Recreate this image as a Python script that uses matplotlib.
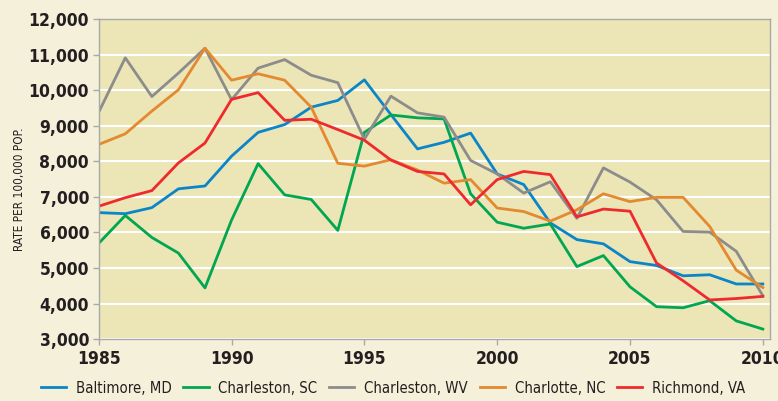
import matplotlib.pyplot as plt

years = list(range(1985, 2011))
baltimore = [6560, 6530, 6700, 7230, 7310, 8150, 8820, 9040, 9530, 9720, 10300,
             9320, 8355, 8540, 8800, 7650, 7350, 6270, 5800, 5680, 5180, 5070,
             4780, 4810, 4550, 4550]
charleston_sc = [5695, 6480, 5860, 5420, 4440, 6350, 7940, 7060, 6930, 6060, 8820,
                 9310, 9230, 9200, 7090, 6290, 6120, 6240, 5040, 5350, 4470, 3910,
                 3880, 4080, 3510, 3280]
charleston_wv = [9390, 10920, 9830, 10490, 11190, 9740, 10630, 10870, 10430, 10220, 8630,
                 9840, 9370, 9250, 8030, 7650, 7110, 7430, 6400, 7820, 7420, 6920,
                 6030, 6010, 5470, 4220]
charlotte = [8480, 8780, 9420, 10020, 11190, 10290, 10470, 10290, 9530, 7950, 7870,
             8050, 7760, 7390, 7490, 6690, 6590, 6320, 6640, 7090, 6870, 6990,
             6990, 6170, 4940, 4450]
richmond = [6740, 6980, 7180, 7960, 8520, 9750, 9940, 9160, 9190, 8900, 8600,
            8040, 7720, 7650, 6780, 7490, 7720, 7630, 6440, 6660, 6600, 5140,
            4640, 4100, 4140, 4200]

series = [("Baltimore, MD", baltimore, "#0a86c8"),
          ("Charleston, SC", charleston_sc, "#00a651"),
          ("Charleston, WV", charleston_wv, "#8c8c8c"),
          ("Charlotte, NC", charlotte, "#e3892f"),
          ("Richmond, VA", richmond, "#ee2a2f")]

FONT = ["DejaVu Sans"]
BG = "#f5f0da"
PLOT_BG = "#ece5b6"
INK = "#231f20"

fig = plt.figure(figsize=(7.78, 4.01), dpi=100)
fig.patch.set_facecolor(BG)
ax = fig.add_axes([0.1269, 0.1546, 0.8628, 0.7968])
ax.set_facecolor(PLOT_BG)

for name, vals, col in series:
    ax.plot(years, vals, color=col, lw=2.0, label=name)

ax.set_xlim(1985, 2010.27)
ax.set_ylim(3000, 12000)
ax.set_xticks(range(1985, 2011, 5))
ax.set_yticks(range(3000, 12001, 1000))
ax.set_yticklabels([f"{v:,}" for v in range(3000, 12001, 1000)])
ax.grid(axis="y", color="white", lw=1.5)
ax.set_axisbelow(True)
for s in ax.spines.values():
    s.set_color("#a8aaa8")
    s.set_linewidth(1.0)
ax.tick_params(axis="both", colors="#a8aaa8", length=4, width=1, labelcolor=INK)
ax.tick_params(axis="y", pad=3)
ax.tick_params(axis="x", pad=4)
for lab in ax.get_xticklabels() + ax.get_yticklabels():
    lab.set_fontfamily(FONT)
    lab.set_fontstretch("condensed")
    lab.set_fontweight("bold")
    lab.set_fontsize(12.5)

fig.text(0.025, 0.527, "RATE PER 100,000 POP.", rotation=90, ha="center", va="center",
         family=FONT, stretch="condensed", fontsize=8.5, color=INK)

fig.legend(loc="center", bbox_to_anchor=(0.505, 0.032), ncol=5, frameon=False,
           handlelength=1.7, columnspacing=0.8, handletextpad=0.65,
           prop={"family": FONT, "stretch": "condensed", "size": 10.7})
for t in fig.legends[0].get_texts():
    t.set_color(INK)

fig.savefig("out.png", facecolor=BG)
